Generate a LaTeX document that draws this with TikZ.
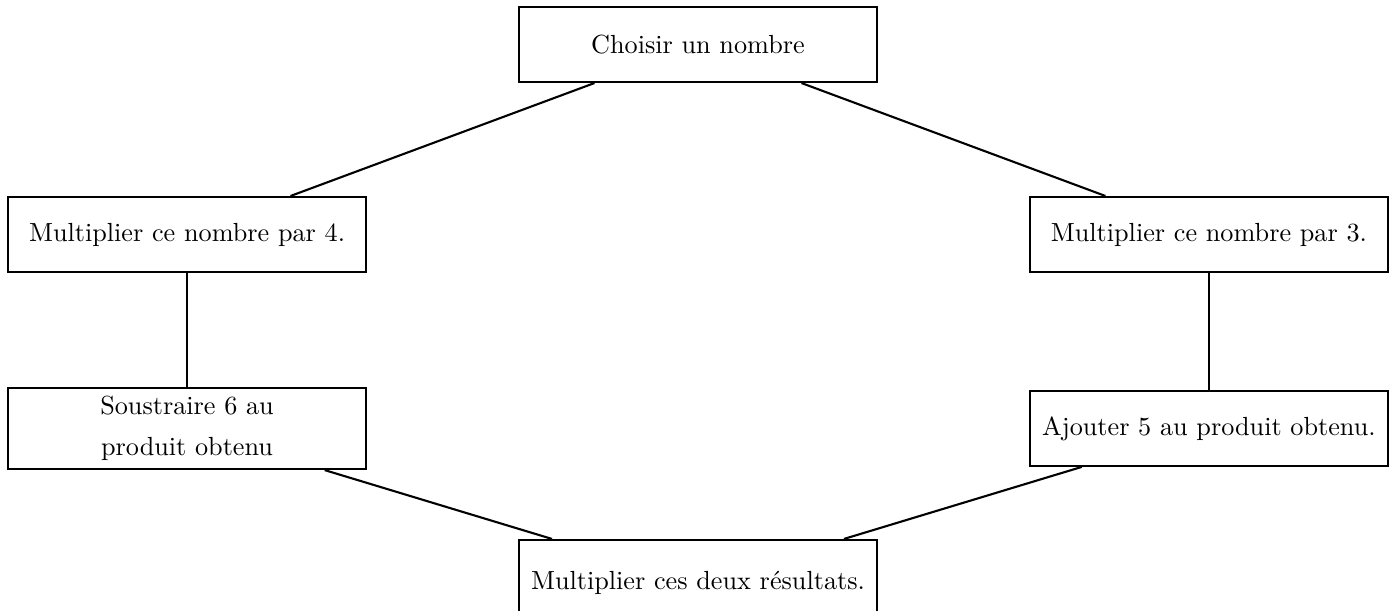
\documentclass[tikz,border=0pt]{standalone}
\usepackage{fontspec}
\usepackage{tikz}
\usetikzlibrary{positioning}

\begin{document}
\begin{tikzpicture}[thick,
    etape/.style={draw,rectangle,minimum width=136.6pt,minimum height=28.6pt,align=center},
    level distance=72.5pt,
    level 1/.style={sibling distance=390pt},
    level 2/.style={level distance=74pt}]
        \useasboundingbox (-266.4pt,17pt) rectangle (266.8pt,-216.2pt);
        \node [etape] (choisir) {Choisir un nombre}
          child {node [etape] (fois4) {Multiplier ce nombre par 4.}
            child {node [etape] (moins6) {Soustraire 6 au\\[3.4pt] produit obtenu}}
          }
          child {node [etape] (fois3) {Multiplier ce nombre par 3.}
            child {node [etape] (plus5) {Ajouter 5 au produit obtenu.}}
          };
        \node [etape,minimum height=33pt,below=174pt of choisir] (produit) {Multiplier ces deux résultats.};
        \draw (moins6) -- (produit);
        \draw (plus5) -- (produit);
    \end{tikzpicture}
\end{document}
